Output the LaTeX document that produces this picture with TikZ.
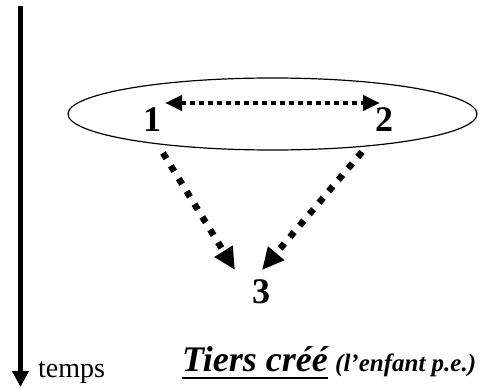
\documentclass[tikz,border=0pt]{standalone}
\usepackage{fontspec}
\setmainfont{Liberation Serif}
\usetikzlibrary{arrows.meta,shapes.geometric}
\begin{document}
\begin{tikzpicture}[x=1pt,y=1pt,
  digit/.style={inner sep=0pt,font=\fontsize{36}{36}\selectfont\bfseries},
  hdot/.style={line width=4.8pt,dash pattern=on 4.8pt off 4.2pt,
    {Triangle[length=17pt,width=15pt]}-{Triangle[length=17pt,width=15pt]}},
  ddot/.style={line width=6.5pt,dash pattern=on 6.5pt off 8.5pt,
    -{Triangle[length=22pt,width=20pt]}},
  lbl/.style={inner sep=0pt,anchor=base west}]
\useasboundingbox (0,0) rectangle (491,389);
% time axis
\coordinate (tTop) at (20.5,382.5);
\coordinate (tBot) at (20.5,2);
\draw[line width=4.5pt,-{Triangle[length=16pt,width=16pt]}] (tTop) -- (tBot);
\node[lbl,font=\fontsize{28}{28}\selectfont] (temps) at (38,12) {temps};
% ellipse
\node[draw,ellipse,line width=1.2pt,minimum width=409pt,minimum height=72pt,inner sep=0pt] (ell) at (272.5,275) {};
% digits
\node[digit] (n1) at (152,269) {1};
\node[digit] (n2) at (384,269) {2};
\node[digit] (n3) at (261,97) {3};
% arrows
\draw[hdot] ([shift={(13,17)}]n1.center) -- ([shift={(-4,17)}]n2.center);
\draw[ddot] ([shift={(11,-33)}]n1.center) -- ([shift={(-26,22)}]n3.center);
\draw[ddot] ([shift={(-22,-32)}]n2.center) -- ([shift={(1,22)}]n3.center);
% caption
\node[lbl,font=\fontsize{36}{36}\selectfont\bfseries\itshape] (tiers) at (182,17) {Tiers créé};
\draw[line width=2.5pt] ([yshift=-6pt]tiers.base west) -- ([yshift=-6pt]tiers.base east);
\node[lbl,font=\fontsize{25}{25}\selectfont\bfseries\itshape] (enf) at ([xshift=7pt]tiers.base east) {(l’enfant p.e.)};
\end{tikzpicture}
\end{document}
